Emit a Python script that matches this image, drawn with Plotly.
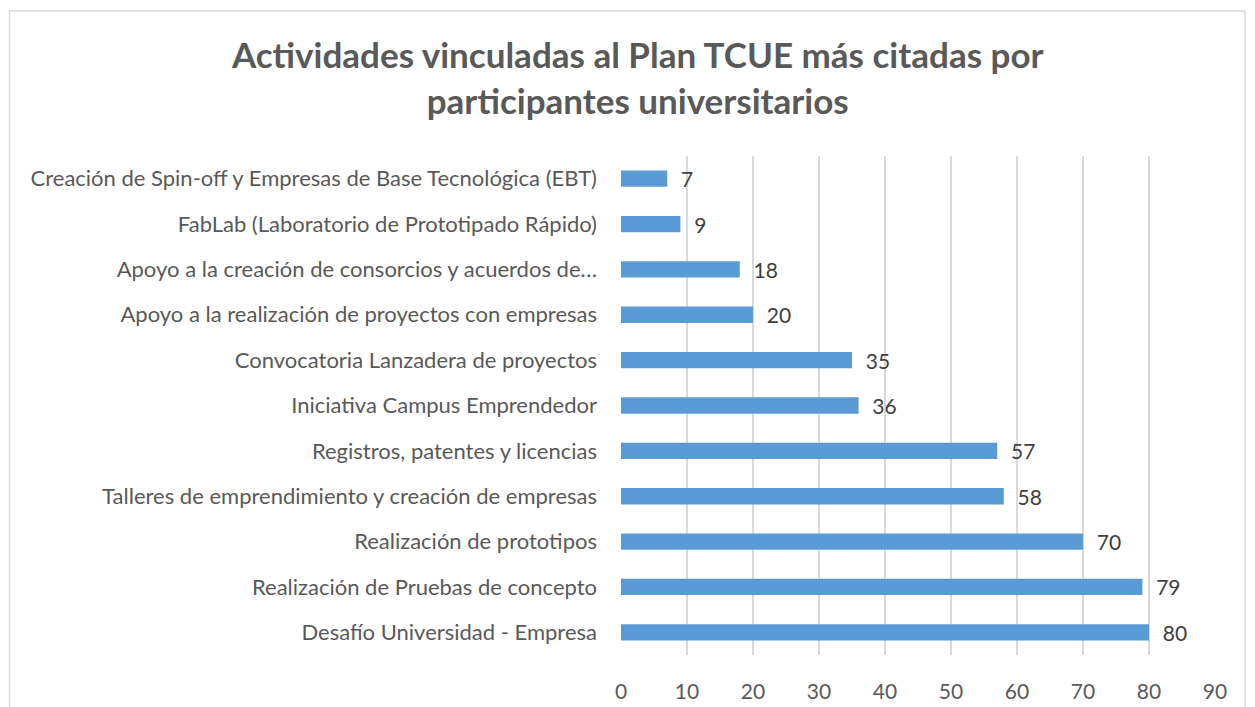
import plotly.graph_objects as go

categories = [
    "Creación de Spin-off y Empresas de Base Tecnológica (EBT)",
    "FabLab (Laboratorio de Prototipado Rápido)",
    "Apoyo a la creación de consorcios y acuerdos de…",
    "Apoyo a la realización de proyectos con empresas",
    "Convocatoria Lanzadera de proyectos",
    "Iniciativa Campus Emprendedor",
    "Registros, patentes y licencias",
    "Talleres de emprendimiento y creación de empresas",
    "Realización de prototipos",
    "Realización de Pruebas de concepto",
    "Desafío Universidad - Empresa",
]
values = [7, 9, 18, 20, 35, 36, 57, 58, 70, 79, 80]
x_ticks = [0, 10, 20, 30, 40, 50, 60, 70, 80, 90]

FONT = "Lato"
W, H = 1247, 699
L, R, T, B = 613, 40, 148, 52
PW, PH = W - L - R, H - T - B

fig = go.Figure(go.Bar(
    y=categories, x=values, orientation="h",
    marker=dict(color="#5B9BD5", line=dict(color="#5B9BD5", width=0)),
    width=0.36,
    text=["\u00a0\u00a0" + str(v) for v in values], textposition="outside",
    constraintext="none",
    textfont=dict(family=FONT, size=21, color="#404040"),
    cliponaxis=False,
))

fig.update_layout(
    width=W, height=H,
    margin=dict(l=L, r=R, t=T, b=B, autoexpand=False),
    paper_bgcolor="white", plot_bgcolor="white",
    title=dict(
        text="Actividades vinculadas al Plan TCUE más citadas por<br>participantes universitarios",
        x=0.505, xanchor="center", y=1 - 60 / H, yanchor="middle",
        font=dict(family=FONT, size=35, color="#595959", weight="bold"),
    ),
    showlegend=False,
    xaxis=dict(
        range=[0, 90], tickvals=x_ticks, showgrid=True, gridcolor="#d9d9d9", gridwidth=1.5,
        zeroline=False, showline=False, ticks="", automargin=False,
        tickfont=dict(family=FONT, size=21, color="#595959"),
        ticklabelstandoff=22,
    ),
    yaxis=dict(
        autorange="reversed", showgrid=False, showline=False, ticks="", automargin=False,
        tickfont=dict(family=FONT, size=22, color="#595959"),
        ticklabelstandoff=23,
    ),
    shapes=[dict(
        type="rect", xref="paper", yref="paper",
        x0=(1.5 - L) / PW, x1=(1237 - L) / PW,
        y0=-0.3, y1=(T + PH - 3) / PH,
        line=dict(color="#d9d9d9", width=1.5), fillcolor="rgba(0,0,0,0)", layer="below",
    )],
)

fig.write_html("out.html")
